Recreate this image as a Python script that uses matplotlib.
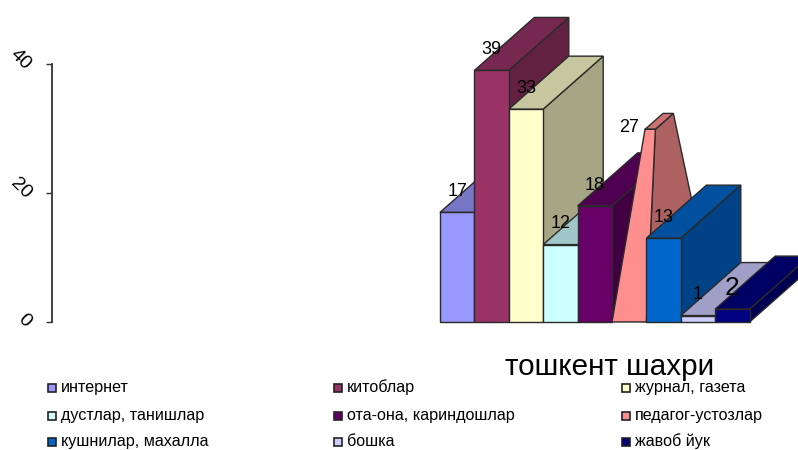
import numpy as np
import matplotlib
matplotlib.use("Agg")
import matplotlib.pyplot as plt
from matplotlib.patches import Polygon, Rectangle
from matplotlib.transforms import ScaledTranslation

plt.rcParams['font.family'] = ['Liberation Sans', 'DejaVu Sans']

# --------------------
# data
# --------------------
categories = ["интернет", "китоблар", "журнал, газета",
              "дустлар, танишлар", "ота-она, кариндошлар", "педагог-устозлар",
              "кушнилар, махалла", "бошка", "жавоб йук"]
values = [17, 39, 33, 12, 18, 27, 13, 1, 2]
colors = ["#9999FF", "#993366", "#FFFFCC", "#CCFFFF", "#660066",
          "#FF8F8F", "#0066CC", "#CCCCFF", "#000080"]
y_ticks = [0, 20, 40]
title = "тошкент шахри"
pyramid_index = 5

# --------------------
# layout (pixels of the 798x450 picture)
# --------------------
W, H = 798, 450
axis_x, base_y, top_y = 52, 322, 64
bar_x0, bar_w = 440, 34.4
depth_dx = 60 / bar_w
depth_dy = 53 / ((base_y - top_y) / 40)
edge = "#2a2a2a"


def shade(c, f):
    return tuple(np.array(matplotlib.colors.to_rgb(c)) * f)


fig = plt.figure(figsize=(W / 100, H / 100), dpi=100)
ax = fig.add_axes([axis_x / W, 1 - base_y / H, 1 - axis_x / W, (base_y - top_y) / H])
ax.set_xlim((axis_x - bar_x0) / bar_w, (W - bar_x0) / bar_w)
ax.set_ylim(0, 40)
ax.patch.set_visible(False)

for s in ["top", "right", "bottom"]:
    ax.spines[s].set_visible(False)
ax.spines["left"].set_color("#333333")
ax.spines["left"].set_linewidth(1.3)
ax.set_xticks([])
ax.set_yticks(y_ticks)
ax.tick_params(axis="y", length=4, width=1, color="#333333", pad=13)
shift = ScaledTranslation(0, -3 / 100, fig.dpi_scale_trans)
for lab in ax.get_yticklabels():
    lab.set_rotation(-45)
    lab.set_fontsize(14)
    lab.set_rotation_mode("anchor")
    lab.set_ha("right")
    lab.set_va("center")
    lab.set_transform(lab.get_transform() + shift)


def poly(pts, color, z):
    ax.add_patch(Polygon(pts, closed=True, facecolor=color, edgecolor=edge,
                         linewidth=1.0, joinstyle="miter", clip_on=False, zorder=z))


# --------------------
# bars, painted left to right
# --------------------
for i, (v, c) in enumerate(zip(values, colors)):
    z = 2 + i
    if i == pyramid_index:
        # truncated pyramid, apex over the centre of the base
        r = 0.3
        cx, cy = i + 0.5 + depth_dx / 2, depth_dy / 2
        base = [(i, 0), (i + 1, 0), (i + 1 + depth_dx, depth_dy), (i + depth_dx, depth_dy)]
        tops = [(cx + r * (px - cx), cy + r * (py - cy) + v) for px, py in base]
        poly([base[1], base[2], tops[2], tops[1]], shade(c, 0.68), z)
        poly([tops[0], tops[1], tops[2], tops[3]], shade(c, 0.8), z)
        poly([base[0], base[1], tops[1], tops[0]], c, z)
    else:
        poly([(i + 1, 0), (i + 1 + depth_dx, depth_dy),
              (i + 1 + depth_dx, v + depth_dy), (i + 1, v)], shade(c, 0.65), z)
        poly([(i, v), (i + 1, v), (i + 1 + depth_dx, v + depth_dy),
              (i + depth_dx, v + depth_dy)], shade(c, 0.78), z)
        poly([(i, 0), (i + 1, 0), (i + 1, v), (i, v)], c, z)

# value labels
for i, v in enumerate(values):
    size = 19 if v == 2 else 13
    ax.text(i + 0.5, v + 3.2, str(v), ha="center", va="center",
            fontsize=size, color="black", zorder=20)

# --------------------
# title and legend
# --------------------
fig.text(610 / W, 1 - 367 / H, title, ha="center", va="center", fontsize=21.3, zorder=30)

col_x = [48, 334, 622]
row_y = [388, 416, 442]
for i, (name, c) in enumerate(zip(categories, colors)):
    x, y = col_x[i % 3], row_y[i // 3]
    fig.add_artist(Rectangle((x / W, 1 - (y + 4) / H), 8 / W, 8 / H,
                             transform=fig.transFigure, facecolor=c,
                             edgecolor="#222222", linewidth=1.2))
    fig.text((x + 13) / W, 1 - (y + 4) / H, name, ha="left", va="baseline", fontsize=11.6)

fig.savefig("out.png", dpi=100)
